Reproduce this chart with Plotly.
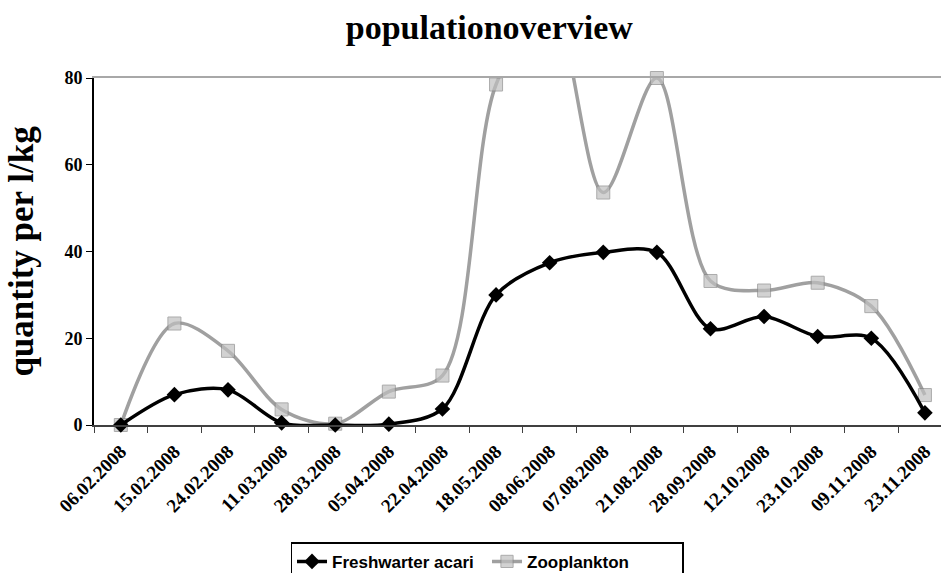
import plotly.graph_objects as go

dates = ["06.02.2008", "15.02.2008", "24.02.2008", "11.03.2008", "28.03.2008",
         "05.04.2008", "22.04.2008", "18.05.2008", "08.06.2008", "07.08.2008",
         "21.08.2008", "28.09.2008", "12.10.2008", "23.10.2008", "09.11.2008",
         "23.11.2008"]
acari = [0, 7.0, 8.1, 0.5, 0, 0.2, 3.7, 30.0, 37.4, 39.8, 39.8, 22.2, 25.0, 20.4, 20.0, 2.8]
zooplankton = [0, 23.4, 17.1, 3.6, 0.3, 7.7, 11.4, 78.5, 98, 53.6, 80.0, 33.2, 31.0, 32.8, 27.4, 6.9]
y_ticks = [0, 20, 40, 60, 80]
y_max = 80

serif = "Liberation Serif, Times New Roman, serif"
sans = "Liberation Sans Narrow, Arial Narrow, Liberation Sans, Arial, sans-serif"

fig = go.Figure()
fig.add_trace(go.Scatter(
    x=dates, y=zooplankton, name="Zooplankton", mode="lines+markers",
    line=dict(color="#A0A0A0", width=3.5, shape="spline", smoothing=0.9),
    marker=dict(symbol="square", size=[13 if v <= y_max else 0 for v in zooplankton],
                color="#C0C0C0", line=dict(color="#888888", width=1)),
    cliponaxis=False,
))
fig.add_trace(go.Scatter(
    x=dates, y=acari, name="Freshwarter acari", mode="lines+markers",
    line=dict(color="#000000", width=3.5, shape="spline", smoothing=0.9),
    marker=dict(symbol="diamond", size=12, color="#000000"),
    cliponaxis=False,
))
# secondary axis used only to draw the top border line of the plot area
fig.add_trace(go.Scatter(x=dates, y=[None] * len(dates), xaxis="x2",
                         showlegend=False, hoverinfo="skip"))

fig.update_layout(
    width=941, height=573,
    margin=dict(l=94, r=0, t=78, b=148),
    paper_bgcolor="white", plot_bgcolor="white",
    title=dict(text="populationoverview", x=0.52, xanchor="center", y=0.953, yanchor="middle",
               font=dict(family=serif, size=34, color="black", weight="bold")),
    xaxis=dict(type="category", range=[-0.5, 15.3], showgrid=False, automargin=False,
               showline=True, linecolor="#404040", linewidth=2,
               ticks="outside", tickson="boundaries", ticklen=6, tickcolor="#404040",
               tickangle=-45, ticklabelstandoff=6,
               tickfont=dict(family=serif, size=19, color="black", weight="bold")),
    xaxis2=dict(type="category", matches="x", overlaying="x", side="top", anchor="y",
                showline=True, linecolor="#A8A8A8", linewidth=2, showticklabels=False,
                ticks="", showgrid=False, automargin=False),
    yaxis=dict(range=[0, y_max], tickvals=y_ticks, showgrid=False, zeroline=False,
               showline=True, linecolor="#000000", linewidth=2, automargin=False,
               ticks="outside", ticklen=6, tickcolor="#000000",
               tickfont=dict(family=serif, size=18, color="black", weight="bold"),
               title=dict(text="quantity per l/kg", standoff=20,
                          font=dict(family=serif, size=35, color="black", weight="bold"))),
    legend=dict(orientation="h", x=0.464, xanchor="center",
                yref="container", y=0.0535, yanchor="top",
                bordercolor="#000000", borderwidth=1.5, bgcolor="white",
                traceorder="reversed", entrywidth=150,
                font=dict(family=sans, size=17, color="black", weight="bold")),
    showlegend=True,
)

fig.write_html("out.html", config={"displayModeBar": False},
               post_script="document.body.style.margin='0';document.body.style.overflow='hidden';")
